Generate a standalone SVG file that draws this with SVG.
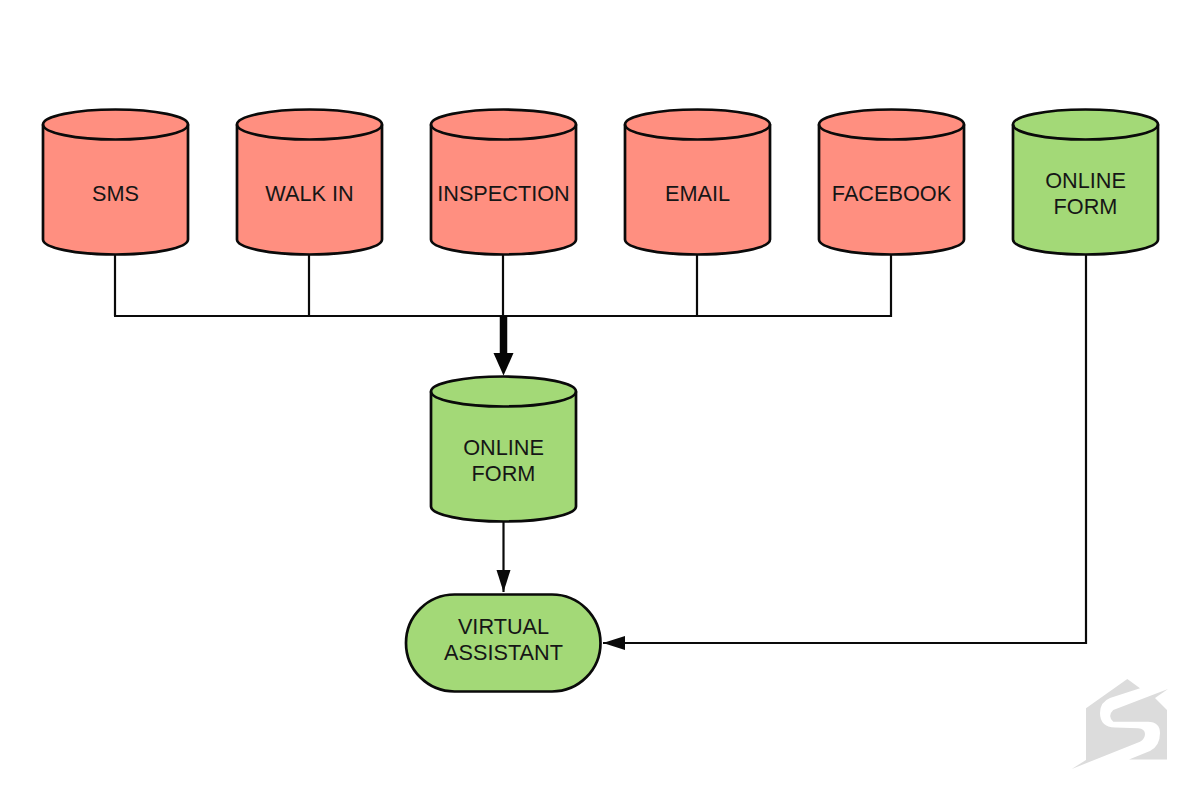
<svg xmlns="http://www.w3.org/2000/svg" width="1200" height="800" viewBox="0 0 1200 800">
<style>
.node{stroke:#0a0a0a;stroke-width:2.700}
.red{fill:#ff8f80}
.green{fill:#a3d977}
.lid{fill:none;stroke:#0a0a0a;stroke-width:2.700}
.lbl{font-family:"Liberation Sans",Arial,sans-serif;font-size:21.700px;fill:#161616;text-anchor:middle}
.wire{fill:none;stroke:#0a0a0a;stroke-width:2.200}
.logo{fill:#dcdcdc}
</style>
<defs>
<path id="cyl" d="M0,15 A72.5,15 0 0 1 145,15 V130 A72.5,15 0 0 1 0,130 Z"/>
<path id="lid" d="M0,15 A72.5,15 0 0 0 145,15"/>
<marker id="head" markerUnits="userSpaceOnUse" markerWidth="22" markerHeight="16" refX="22" refY="8" orient="auto"><path d="M0,1 L22,8 L0,15 Z" fill="#0a0a0a"/></marker>
</defs>
<rect width="1200" height="800" fill="#fff"/>
<g id="connectors">
<path class="wire" d="M115,254 V316 M309,254 V316 M503,254 V316 M697,254 V316 M891,254 V317 M114,316 H892"/>
<path fill="none" stroke="#050505" stroke-width="7.500" d="M503.500,316 V355"/>
<path fill="#050505" d="M493.500,353 H513.500 L503.500,375.500 Z"/>
<path class="wire" d="M503.500,521 V592" marker-end="url(#head)"/>
<path class="wire" d="M1086,254 V643 H603" marker-end="url(#head)"/>
</g>
<g id="sms"><use href="#cyl" x="43" y="109.500" class="node red"/><use href="#lid" x="43" y="109.500" class="lid"/><text class="lbl" x="115.500" y="201">SMS</text></g>
<g id="walk-in"><use href="#cyl" x="237" y="109.500" class="node red"/><use href="#lid" x="237" y="109.500" class="lid"/><text class="lbl" x="309.500" y="201">WALK IN</text></g>
<g id="inspection"><use href="#cyl" x="431" y="109.500" class="node red"/><use href="#lid" x="431" y="109.500" class="lid"/><text class="lbl" x="503.500" y="201">INSPECTION</text></g>
<g id="email"><use href="#cyl" x="625" y="109.500" class="node red"/><use href="#lid" x="625" y="109.500" class="lid"/><text class="lbl" x="697.500" y="201">EMAIL</text></g>
<g id="facebook"><use href="#cyl" x="819" y="109.500" class="node red"/><use href="#lid" x="819" y="109.500" class="lid"/><text class="lbl" x="891.500" y="201">FACEBOOK</text></g>
<g id="online-form-top"><use href="#cyl" x="1013" y="109.500" class="node green"/><use href="#lid" x="1013" y="109.500" class="lid"/><text class="lbl" x="1085.500" y="188">ONLINE</text><text class="lbl" x="1085.500" y="214">FORM</text></g>
<g id="online-form-mid"><use href="#cyl" x="431" y="376.500" class="node green"/><use href="#lid" x="431" y="376.500" class="lid"/><text class="lbl" x="503.500" y="455">ONLINE</text><text class="lbl" x="503.500" y="481">FORM</text></g>
<g id="virtual-assistant"><rect class="node green" x="406" y="594.500" width="194.500" height="97" rx="48.500"/><text class="lbl" x="503.500" y="634">VIRTUAL</text><text class="lbl" x="503.500" y="660">ASSISTANT</text></g>
<g id="logo">
<path class="logo" d="M1127.300,679 L1140,688.300 L1110,698 Q1100,702 1100,713 Q1100,727 1115,727.500 L1138,728.300 Q1145,729 1145,734 Q1145,739 1140,741.700 L1071.700,769 L1086,760 V708.300 Z"/>
<path class="logo" d="M1113.300,710 L1168,689 L1155,698 L1167,710 V759.500 H1129 L1150,751 Q1160,746 1160,733 Q1160,722 1148,721.700 H1113.300 Q1107,716 1113.300,710 Z"/>
</g>
</svg>
